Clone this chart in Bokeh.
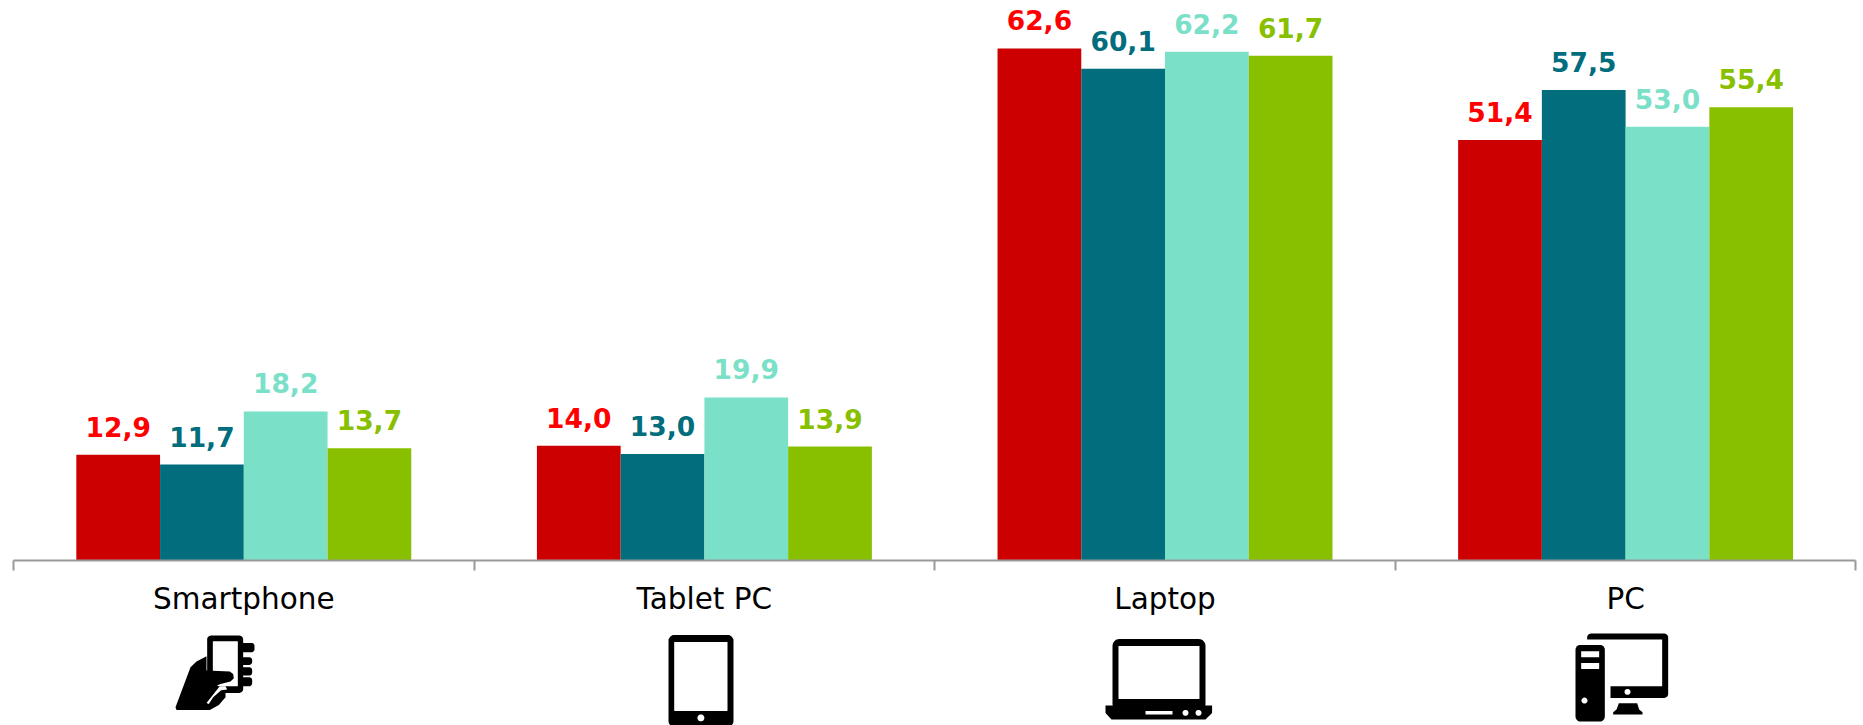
from bokeh.plotting import figure
from bokeh.models import ColumnDataSource, LinearAxis, FixedTicker, Range1d
from bokeh.core.properties import value
from bokeh.embed import file_html
from bokeh.resources import INLINE
import math

categories = ["Smartphone", "Tablet PC", "Laptop", "PC"]
series_1 = [12.9, 14.0, 62.6, 51.4]
series_2 = [11.7, 13.0, 60.1, 57.5]
series_3 = [18.2, 19.9, 62.2, 53.0]
series_4 = [13.7, 13.9, 61.7, 55.4]
bar_colors = ["#CC0000", "#026D7D", "#7BE0C8", "#88C000"]
label_colors = ["#FF0000", "#026D7D", "#7BE0C8", "#88C000"]

W, H = 1863, 725
LEFT, CAT_W, BASE, UNIT = 13.0, 460.6, 559.7, 8.176
ICON_DY = -1.6


def fx(px):
    return (px - LEFT) / CAT_W


def fy(py):
    return (BASE - py) / UNIT


p = figure(width=W, height=H, output_backend="svg", toolbar_location=None,
           x_axis_type=None, y_axis_type=None,
           x_range=Range1d(fx(0), fx(W)), y_range=Range1d(fy(H), fy(0)),
           min_border=0, outline_line_color=None, background_fill_color="white")
p.grid.visible = False

bar_w = 0.1818
for k, (vals, bc, lc) in enumerate(zip([series_1, series_2, series_3, series_4], bar_colors, label_colors)):
    xs = [i + 0.5 + (k - 1.5) * bar_w for i in range(len(categories))]
    src = ColumnDataSource(dict(x=xs, top=vals, label=[f"{v:.1f}".replace(".", ",") for v in vals]))
    p.vbar(x="x", top="top", bottom=0, width=bar_w, source=src, fill_color=bc, line_color=None)
    p.text(x="x", y="top", text="label", source=src, text_color=lc, text_align="center",
           text_baseline="alphabetic", y_offset=-28, text_font=value("DejaVu Sans"),
           text_font_style="bold", text_font_size="26.5px")

centers = [i + 0.5 for i in range(len(categories))]
bounds = [float(i) for i in range(len(categories) + 1)]
axis = LinearAxis(ticker=FixedTicker(ticks=centers, minor_ticks=bounds),
                  major_label_overrides={c: n for c, n in zip(centers, categories)},
                  fixed_location=0, bounds=(0, len(categories)),
                  axis_line_color="#999999", axis_line_width=2,
                  major_tick_line_color=None, major_tick_out=0, major_tick_in=0,
                  minor_tick_line_color="#999999", minor_tick_line_width=2,
                  minor_tick_out=10, minor_tick_in=0,
                  major_label_standoff=12, major_label_text_color="#000000",
                  major_label_text_font="DejaVu Sans", major_label_text_font_size="29.5px")
p.add_layout(axis, "below")


# ---- pictograms (decoration under the axis), outlined in page pixels
def rrect(x0, y0, x1, y1, r):
    pts = []
    for cx, cy, a0 in [(x1 - r, y0 + r, -90), (x1 - r, y1 - r, 0), (x0 + r, y1 - r, 90), (x0 + r, y0 + r, 180)]:
        for t in range(0, 91, 15):
            a = math.radians(a0 + t)
            pts.append((cx + r * math.cos(a), cy + r * math.sin(a)))
    return pts


def circle(cx, cy, r):
    return [(cx + r * math.cos(math.radians(t)), cy + r * math.sin(math.radians(t))) for t in range(0, 360, 20)]


def z(ox, oy, s, pts):
    return [(ox + x / s, oy + y / s) for x, y in pts]


K, O = "#000000", "#FFFFFF"
icons = []
# smartphone in hand
ox, oy = 170, 630
icons += [(K, rrect(*[ox + 110 / 3, oy + 20 / 3, ox + 218 / 3, oy + 192 / 3], 4)),
          (O, rrect(ox + 127 / 3, oy + 37 / 3, ox + 202 / 3, oy + 172 / 3, 0.5))]
for a, b, c in [(42, 70, 252), (85, 108, 245), (115, 140, 245), (145, 172, 245)]:
    icons.append((K, rrect(ox + 210 / 3, oy + a / 3, ox + c / 3, oy + b / 3, 3)))
icons.append((K, z(ox, oy, 3, [(18, 243), (15, 235), (60, 115), (78, 98), (108, 82), (108, 125), (178, 128),
                               (188, 135), (190, 148), (180, 158), (150, 165), (140, 170), (165, 190), (165, 205),
                               (145, 228), (118, 243)])))
icons.append((O, z(ox, oy, 3, [(108, 222), (140, 182), (148, 172), (165, 172), (170, 182), (152, 184), (128, 205),
                               (115, 225)])))
# tablet
icons += [(K, rrect(668, 636, 733, 728, 6)), (O, rrect(673.7, 643, 727, 712, 0.5)), (O, circle(700.4, 719, 3.5))]
# laptop
icons += [(K, rrect(1112, 640, 1205, 712, 7)), (O, rrect(1118, 647, 1199, 700, 0.5)),
          (K, [(1105, 706.7), (1211.6, 706.7), (1211.6, 714), (1205, 720.7), (1111, 720.7), (1105, 714)]),
          (O, rrect(1145, 712, 1172, 715.7, 0.2)), (O, circle(1185, 714, 3)), (O, circle(1198, 714, 3))]
# desktop computer
ox, oy = 1360, 540
icons += [(K, rrect(ox + 680 / 3, oy + 284 / 3, ox + 923 / 3, oy + 477 / 3, 4)),
          (O, rrect(ox + 670 / 3, oy + 302 / 3, ox + 905 / 3, oy + 442 / 3, 0.2)),
          (O, [(ox + 670 / 3, oy + 430 / 3), (ox + 750 / 3, oy + 430 / 3), (ox + 750 / 3, oy + 480 / 3), (ox + 670 / 3, oy + 480 / 3)]),
          (O, circle(ox + 801 / 3, oy + 459 / 3, 3)),
          (K, z(ox, oy, 3, [(775, 493), (830, 493), (836, 512), (846, 520), (846, 527), (758, 527), (758, 520), (768, 512)])),
          (K, rrect(ox + 645 / 3, oy + 318 / 3, ox + 733 / 3, oy + 548 / 3, 5)),
          (O, rrect(ox + 662 / 3, oy + 337 / 3, ox + 716 / 3, oy + 355 / 3, 0.2)),
          (O, rrect(ox + 662 / 3, oy + 372 / 3, ox + 716 / 3, oy + 390 / 3, 0.2)),
          (O, circle(ox + 672 / 3, oy + 485 / 3, 3))]

p.patches(xs=[[fx(a) for a, _ in pts] for _, pts in icons],
          ys=[[fy(b + ICON_DY) for _, b in pts] for _, pts in icons],
          fill_color=[c for c, _ in icons], line_color=None)

open("out.html", "w").write(file_html(p, INLINE))
